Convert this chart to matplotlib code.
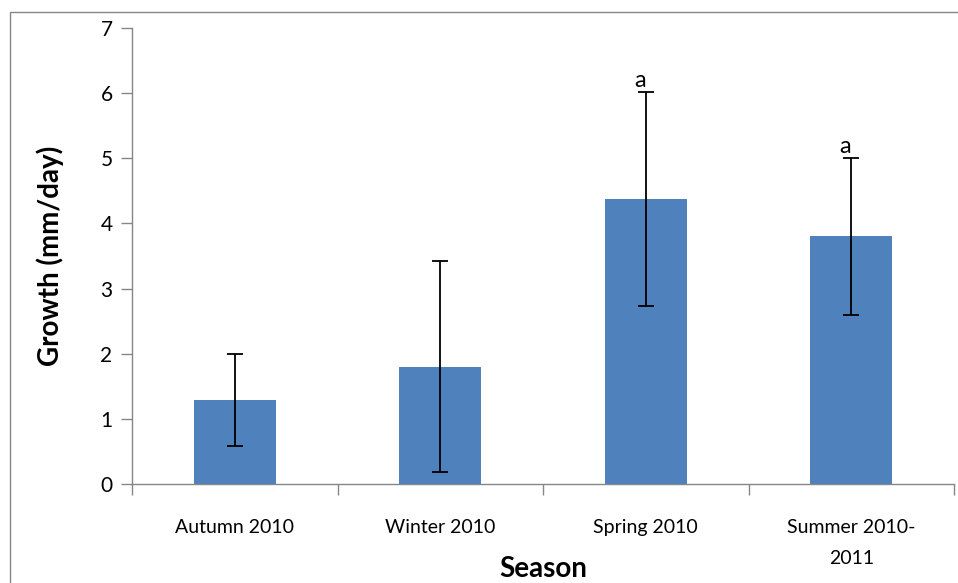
import matplotlib.pyplot as plt
import numpy as np

plt.rcParams['font.family'] = ['Lato', 'DejaVu Sans']

seasons = ['Autumn 2010', 'Winter 2010', 'Spring 2010', 'Summer 2010-\n2011']
growth = [1.29, 1.80, 4.37, 3.80]
growth_err = [0.70, 1.62, 1.64, 1.20]
letters = ['', '', 'a', 'a']

fig = plt.figure(figsize=(9.58, 5.83), dpi=100)
ax = fig.add_axes([132 / 958, 1 - 484 / 583, 822 / 958, 456 / 583])

x = np.arange(len(seasons))
ax.bar(x, growth, width=0.4, color='#4F81BD', zorder=2)
ax.errorbar(x, growth, yerr=growth_err, fmt='none', ecolor='black',
            elinewidth=1.3, capsize=6, capthick=1.3, zorder=3)

# significance letters above the error bars
for xi, g, e, lab in zip(x, growth, growth_err, letters):
    if lab:
        ax.text(xi - 0.03, g + e + 0.02, lab, ha='center', va='bottom', fontsize=17)

ax.set_xlim(-0.5, len(seasons) - 0.5)
ax.set_ylim(0, 7)
ax.set_yticks(range(0, 8))
ax.set_xticks(x)
ax.set_xticklabels(seasons, fontsize=14, va='top', linespacing=2.0)
ax.set_xticks(np.arange(-0.5, len(seasons)), minor=True)
ax.tick_params(axis='x', which='major', length=0, pad=25)
ax.tick_params(axis='x', which='minor', length=8, width=1, color='#868686', direction='out')
ax.tick_params(axis='y', length=8, width=1, color='#868686', labelsize=15, pad=6)

for side in ['top', 'right']:
    ax.spines[side].set_visible(False)
for side in ['left', 'bottom']:
    ax.spines[side].set_color('#868686')
    ax.spines[side].set_linewidth(1)

ax.set_ylabel('Growth (mm/day)', fontsize=20, fontweight='bold', labelpad=26)
ax.set_xlabel('Season', fontsize=20, fontweight='bold', labelpad=-8)

# chart area frame
frame = plt.Rectangle((10 / 958, -0.1), 1.0, (583 - 12) / 583 + 0.1,
                      transform=fig.transFigure, fill=False,
                      edgecolor='#868686', linewidth=1)
fig.patches.append(frame)

fig.savefig('out.png', dpi=100)
